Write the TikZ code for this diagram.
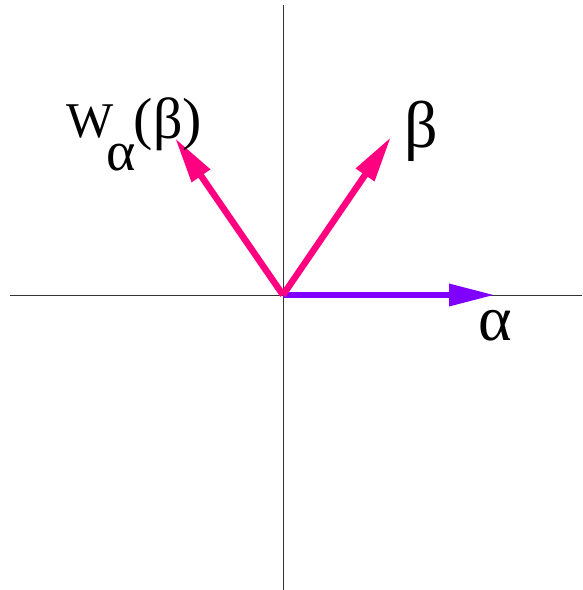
\documentclass[tikz,border=0pt]{standalone}
\usepackage{fontspec}
\setmainfont{Liberation Serif}
\usetikzlibrary{arrows.meta}
\definecolor{apurple}{RGB}{128,0,255}
\definecolor{apink}{RGB}{255,0,128}
\tikzset{
  axis/.style={line width=0.9pt, draw=black!80},
  vec/.style={line width=6.5pt, -{Triangle[length=46pt,width=21pt]}},
  lab/.style={inner sep=0pt, anchor=base west}
}
\begin{document}
\begin{tikzpicture}[x=1pt,y=-1pt]
\useasboundingbox (0,0) rectangle (582,590);
\coordinate (xl) at (10,295);
\coordinate (xr) at (582,295);
\coordinate (yt) at (283,5);
\coordinate (yb) at (283,590);
\coordinate (o) at (283,295);
\draw[axis] (xl) -- (xr);
\draw[axis] (yt) -- (yb);
\coordinate (ta) at (495,295);
\coordinate (tb) at (391,137);
\coordinate (tw) at (175,138);
\draw[vec, apurple] (o) -- (ta);
\draw[vec, apink] (o) -- (tb);
\draw[vec, apink] (o) -- (tw);
\node[lab] (la) at (478,340) {\fontsize{64}{64}\selectfont α};
\node[lab] (lb) at (404,147) {\fontsize{66}{66}\selectfont β};
\node[lab] (lw) at (66,137) {\fontsize{50}{50}\selectfont W\kern-7pt\raisebox{-33pt}{\fontsize{56}{56}\selectfont α}\kern-2pt\raisebox{-1pt}{\fontsize{58}{58}\selectfont (β)}};
\end{tikzpicture}
\end{document}
